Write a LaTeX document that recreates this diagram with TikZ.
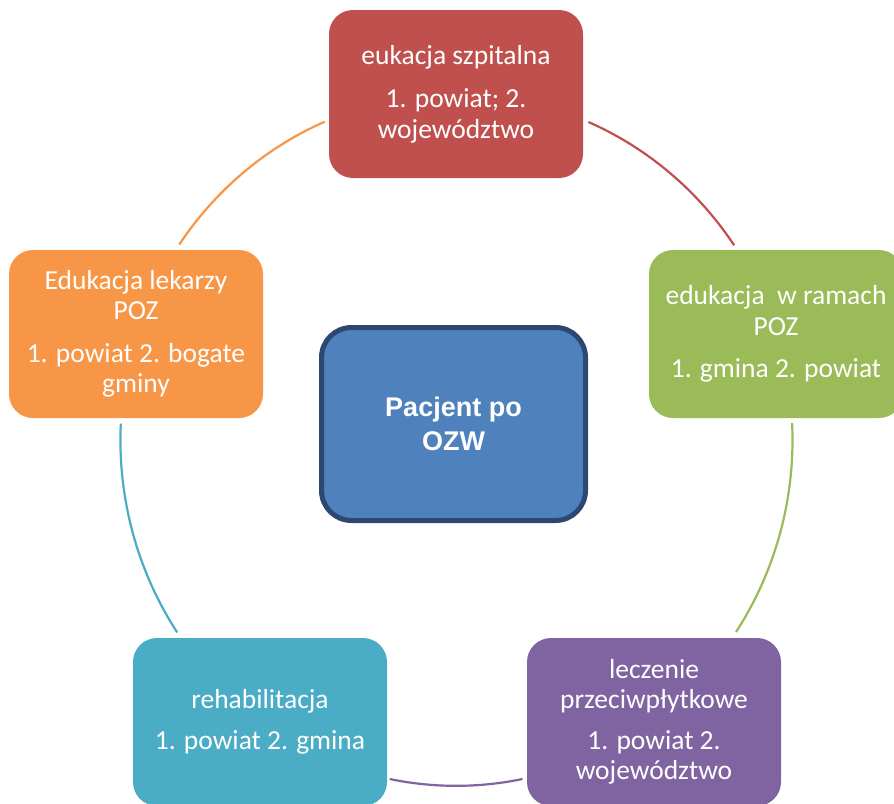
\documentclass[tikz,border=0pt]{standalone}
\usepackage{fontspec}
\setmainfont{Carlito}
\newfontfamily\arialfont{Liberation Sans}
\definecolor{cred}{HTML}{C0504D}
\definecolor{cgreen}{HTML}{9BBB59}
\definecolor{cpurple}{HTML}{8064A2}
\definecolor{cteal}{HTML}{4BACC6}
\definecolor{corange}{HTML}{F79646}
\definecolor{cblue}{HTML}{4F81BD}
\definecolor{cnavy}{HTML}{2C4770}
\begin{document}
\begin{tikzpicture}[x=1pt,y=1pt,
  boxstyle/.style={rounded corners=24pt, minimum width=254pt, minimum height=168pt,
    inner sep=0pt, text=white, align=center, font=\fontsize{27.5}{30.5}\selectfont},
  centerbox/.style={rounded corners=30pt, minimum width=264pt, minimum height=193pt,
    line width=5pt, draw=cnavy, fill=cblue, text=white, align=center,
    font=\arialfont\bfseries\fontsize{27}{34}\selectfont},
  arcline/.style={line width=2.2pt},
  ell/.style={x radius=336pt, y radius=346pt}]
\useasboundingbox (0,0) rectangle (894,-803);

\node[boxstyle, fill=cred] (top) at (456,-94) {eukacja szpitalna\\[13pt]1. powiat; 2.\\województwo};
\node[boxstyle, fill=cgreen] (right) at (776,-334) {edukacja\ \ w ramach\\POZ\\[12pt]1. gmina 2. powiat};
\node[boxstyle, fill=cpurple] (bright) at (654,-722) {leczenie\\przeciwpłytkowe\\[10pt]1. powiat 2.\\województwo};
\node[boxstyle, fill=cteal] (bleft) at (260,-722) {rehabilitacja\\[10pt]1. powiat 2. gmina};
\node[boxstyle, fill=corange] (left) at (136,-334) {Edukacja lekarzy\\POZ\\[12pt]1. powiat 2. bogate\\gminy};

\node[centerbox] (center) at (453.5,-424) {Pacjent po\\OZW};

% arc end points (on an ellipse centred at (456.5,-440))
\coordinate (o1) at (179.3,-244.5);
\coordinate (r1) at (588.4,-122.0);
\coordinate (g1) at (792.1,-423.1);
\coordinate (p1) at (522.5,-779.0);
\coordinate (t1) at (177.2,-632.4);

\draw[arcline, corange] (o1) arc[start angle=-214.4, end angle=-246.9, ell];
\draw[arcline, cred] (r1) arc[start angle=-293.1, end angle=-325.7, ell];
\draw[arcline, cgreen] (g1) arc[start angle=2.8, end angle=-33.7, ell];
\draw[arcline, cpurple] (p1) arc[start angle=-78.6, end angle=-101.4, ell];
\draw[arcline, cteal] (t1) arc[start angle=-146.2, end angle=-182.7, ell];
\end{tikzpicture}
\end{document}
